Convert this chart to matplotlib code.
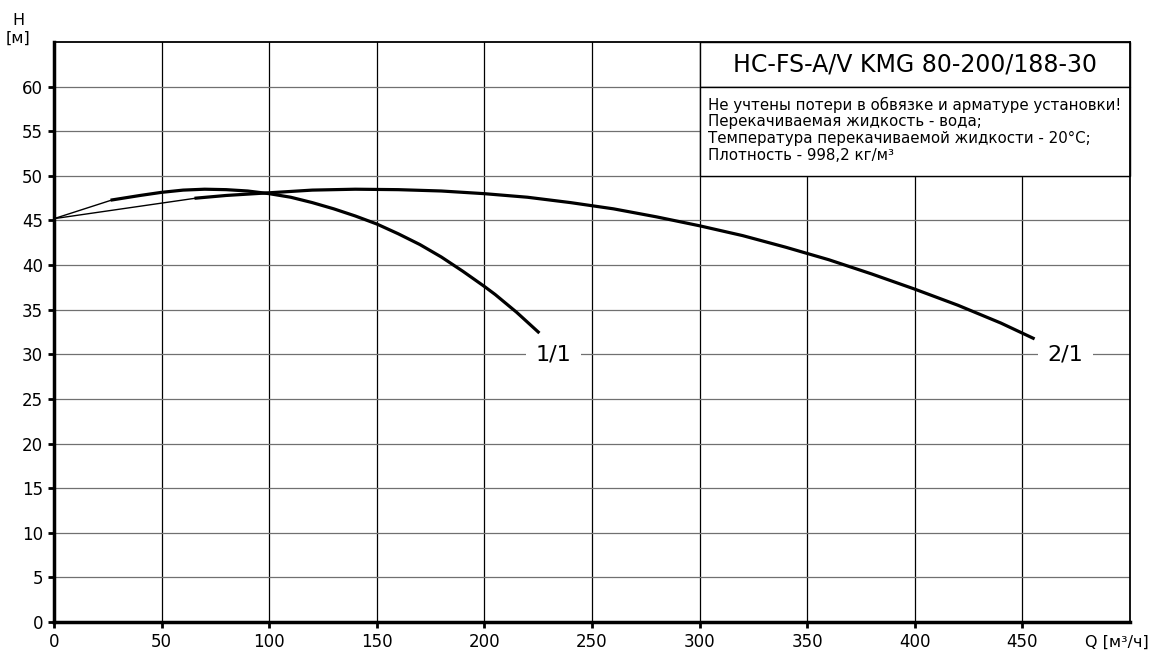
import matplotlib
matplotlib.use("Agg")
import matplotlib.pyplot as plt
from matplotlib.patches import Rectangle

plt.rcParams['font.family'] = ['DejaVu Sans']

# кривая 1/1
q_11_thin = [0, 27]
h_11_thin = [45.2, 47.3]
q_11 = [27, 40, 50, 60, 70, 80, 90, 100, 110, 120, 130, 140, 150, 160,
        170, 180, 190, 200, 205, 210, 215, 220, 225]
h_11 = [47.3, 47.8, 48.15, 48.4, 48.5, 48.45, 48.3, 48.0, 47.6, 47.0, 46.3,
        45.5, 44.6, 43.5, 42.3, 40.9, 39.3, 37.6, 36.7, 35.7, 34.7, 33.6, 32.5]

# кривая 2/1
q_21_thin = [0, 66]
h_21_thin = [45.2, 47.5]
q_21 = [66, 80, 100, 120, 140, 160, 180, 200, 220, 240, 260, 280, 300, 320,
        340, 360, 380, 400, 420, 440, 455]
h_21 = [47.5, 47.8, 48.1, 48.4, 48.5, 48.45, 48.3, 48.0, 47.6, 47.0, 46.3,
        45.4, 44.4, 43.3, 42.0, 40.6, 39.0, 37.3, 35.5, 33.5, 31.8]

curve_labels = ["1/1", "2/1"]
label_q = [232, 470]
label_h = [30, 30]

x_ticks = [0, 50, 100, 150, 200, 250, 300, 350, 400, 450]
y_ticks = [0, 5, 10, 15, 20, 25, 30, 35, 40, 45, 50, 55, 60]

titulo = "HC-FS-A/V KMG 80-200/188-30"
info = ("Не учтены потери в обвязке и арматуре установки!\n"
        "Перекачиваемая жидкость - вода;\n"
        "Температура перекачиваемой жидкости - 20°C;\n"
        "Плотность - 998,2 кг/м³")

fig = plt.figure(figsize=(11.52, 6.57), dpi=100)
ax = fig.add_axes([0.0469, 0.0533, 0.9340, 0.8828])
ax.set_xlim(0, 500)
ax.set_ylim(0, 65)

# сетка
for x in x_ticks[1:]:
    ax.axvline(x, color='black', linewidth=0.9, zorder=1)
for y in y_ticks[1:]:
    ax.axhline(y, color='#707070', linewidth=0.9, zorder=1)

# кривые
ax.plot(q_11_thin, h_11_thin, color='black', linewidth=1.0, zorder=3)
ax.plot(q_11, h_11, color='black', linewidth=2.3, zorder=3)
ax.plot(q_21_thin, h_21_thin, color='black', linewidth=1.0, zorder=3)
ax.plot(q_21, h_21, color='black', linewidth=2.3, zorder=3)

for lab, x, y in zip(curve_labels, label_q, label_h):
    ax.text(x, y, lab, fontsize=16, ha='center', va='center', zorder=4,
            bbox=dict(facecolor='white', edgecolor='none', pad=7))

# рамка с названием
ax.add_patch(Rectangle((300, 60), 200, 5, facecolor='white', edgecolor='black',
                       linewidth=1.0, zorder=5, clip_on=False))
ax.add_patch(Rectangle((300, 50), 200, 10, facecolor='white', edgecolor='black',
                       linewidth=1.0, zorder=5, clip_on=False))
ax.text(400, 62.5, titulo, fontsize=17, ha='center', va='center', zorder=6)
ax.text(304, 58.9, info, fontsize=10.8, ha='left', va='top', zorder=6,
        linespacing=1.15)

ax.set_xticks(x_ticks)
ax.set_yticks(y_ticks)
ax.tick_params(axis='both', labelsize=12, length=4, width=2, direction='out',
               pad=4)

for s in ['left', 'bottom']:
    ax.spines[s].set_linewidth(2.5)
for s in ['top', 'right']:
    ax.spines[s].set_linewidth(1.3)
for s in ax.spines.values():
    s.set_zorder(7)

fig.text(0.016, 0.955, "H\n[м]", fontsize=11.5, ha='center', va='center',
         linespacing=1.2)
fig.text(0.997, 0.022, "Q [м³/ч]", fontsize=11.5, ha='right', va='center')

fig.savefig("out.png", dpi=100)
